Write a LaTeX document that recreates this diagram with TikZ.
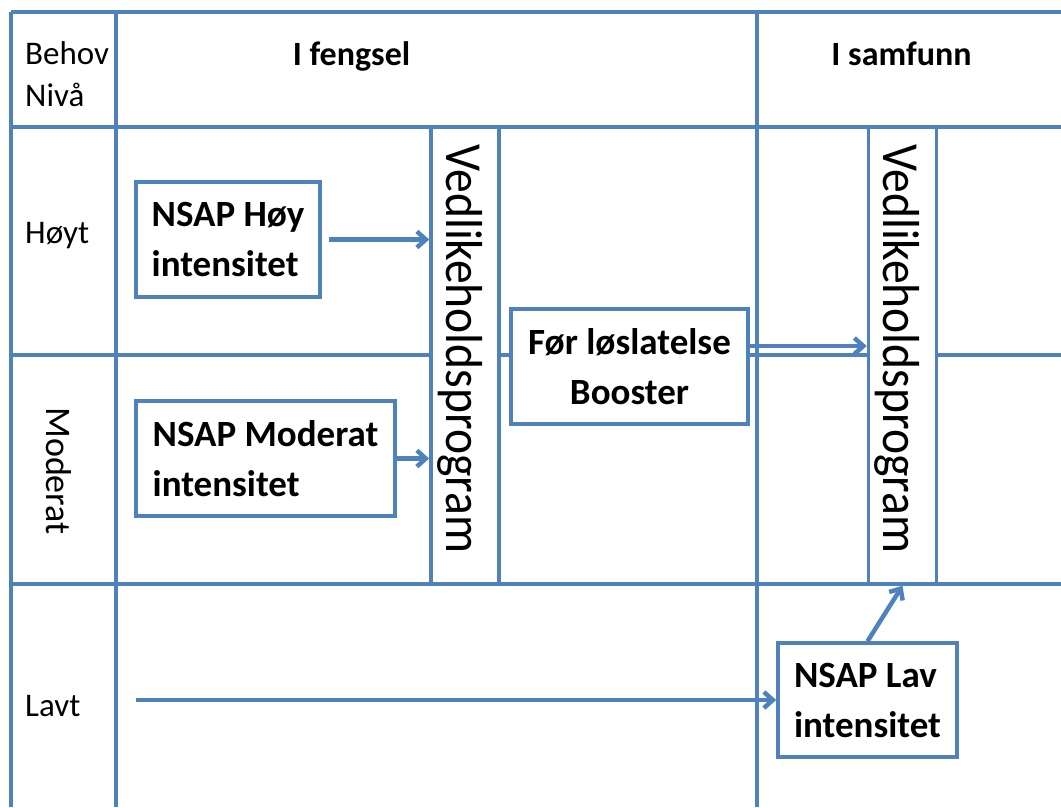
\documentclass[tikz,border=0pt]{standalone}
\usepackage{fontspec}
\setmainfont{Carlito}
\usetikzlibrary{arrows.meta}
\definecolor{gridblue}{RGB}{79,129,189}
\begin{document}
\begin{tikzpicture}[x=1pt,y=-1pt,
  gridline/.style={draw=gridblue,line width=3.5pt},
  boxnode/.style={draw=gridblue,line width=3.5pt,fill=white,align=left,inner sep=0pt,font=\bfseries\fontsize{37}{50}\selectfont},
  vbox/.style={draw=gridblue,line width=3.5pt,fill=white,inner sep=0pt,minimum width=68pt,minimum height=457pt},
  lbl/.style={inner sep=0pt,font=\fontsize{33}{42}\selectfont},
  head/.style={inner sep=0pt,font=\bfseries\fontsize{34}{40}\selectfont},
  vtext/.style={inner sep=0pt,rotate=-90,anchor=base,font=\fontsize{52}{60}\selectfont},
  arr/.style={draw=gridblue,line width=4.5pt,-{Straight Barb[length=9pt,width=16pt]}}
]
\useasboundingbox (0,0) rectangle (1061,807);
% grid
\draw[gridline] (11,12) -- (1061,12);
\draw[gridline] (11,12) -- (11,807);
\draw[gridline] (116,12) -- (116,807);
\draw[gridline] (757,12) -- (757,807);
\draw[gridline] (11,127) -- (1061,127);
\draw[gridline] (11,355) -- (1061,355);
\draw[gridline] (11,584) -- (1061,584);
% labels
\node[lbl,anchor=base west] (behov) at (25,64) {Behov};
\node[lbl,anchor=base west] (niva) at (25,106) {Nivå};
\node[head,anchor=base] (fengsel) at (351.5,65) {I fengsel};
\node[head,anchor=base] (samfunn) at (901.5,65) {I samfunn};
\node[lbl,anchor=base west] (hoyt) at (25,243) {Høyt};
\node[lbl,anchor=base,rotate=-90,font=\fontsize{36}{42}\selectfont] (moderat) at (46,471) {Moderat};
\node[lbl,anchor=base west] (lavt) at (25,716) {Lavt};
% boxes
\node[vbox] (vedl1) at (465,355.5) {};
\node[vbox] (vedl2) at (902.5,355.5) {};
\node[vtext] (vt1) at (446,349) {\scalebox{0.915}[1]{Vedlikeholdsprogram}};
\node[vtext] (vt2) at (883,349) {\scalebox{0.915}[1]{Vedlikeholdsprogram}};
\node[boxnode,minimum width=184pt,minimum height=115pt] (hoy) at (228,239.5) {NSAP Høy\\intensitet};
\node[boxnode,minimum width=259pt,minimum height=115pt] (mod) at (265.5,458.5) {NSAP Moderat\\intensitet};
\node[boxnode,align=center,minimum width=237pt,minimum height=115pt] (boost) at (629.5,366.5) {Før løslatelse\\Booster};
\node[boxnode,minimum width=179pt,minimum height=114pt] (lav) at (867.5,700) {NSAP Lav\\intensitet};
% arrows
\coordinate (lavstart) at (136,700);
\draw[arr] ([xshift=7pt]hoy.east) -- (hoy.east -| vedl1.west);
\draw[arr] (mod.east) -- (mod.east -| vedl1.west);
\draw[arr] ([yshift=20.5pt]boost.east) -- ([yshift=20.5pt]boost.east -| vedl2.west);
\draw[arr] (lavstart) -- (lav.west);
\draw[arr] (lav.north) -- (vedl2.south);
\end{tikzpicture}
\end{document}
